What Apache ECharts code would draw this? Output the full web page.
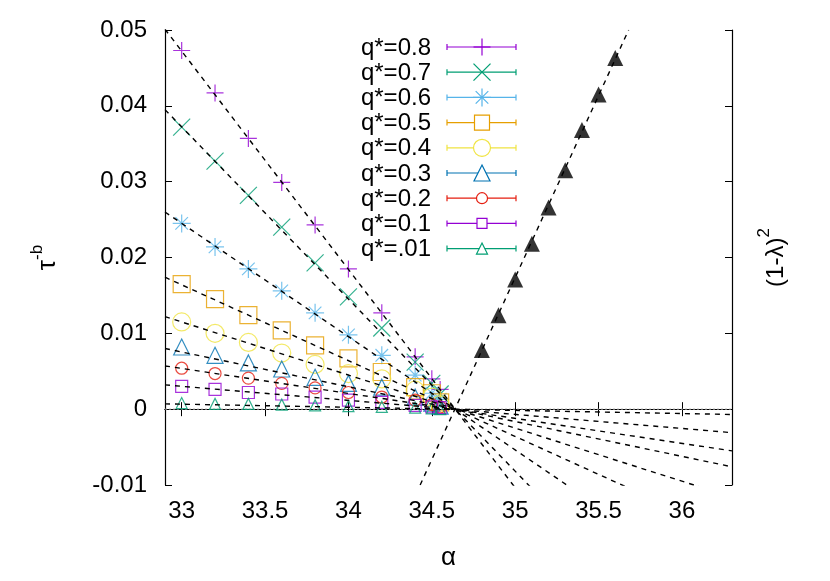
<!DOCTYPE html>
<html>
<head>
<meta charset="utf-8">
<script src="https://cdn.jsdelivr.net/npm/echarts@6/dist/echarts.min.js"></script>
<style>
  html, body { margin: 0; padding: 0; background: #fff; }
  #chart { width: 830px; height: 581px; }
</style>
</head>
<body>
<div id="chart"></div>
<script>
// alpha values of the measured points
const alphas = [33, 33.2, 33.4, 33.6, 33.8, 34, 34.2, 34.4, 34.5, 34.55];
const qNames = ['q*=0.8', 'q*=0.7', 'q*=0.6', 'q*=0.5', 'q*=0.4', 'q*=0.3', 'q*=0.2', 'q*=0.1', 'q*=.01'];
const q08 = [0.0473, 0.0417, 0.0357, 0.0299, 0.0243, 0.0185, 0.0127, 0.0069, 0.0040, 0.0026];
const q07 = [0.0372, 0.0327, 0.0282, 0.0240, 0.0193, 0.0148, 0.0107, 0.0062, 0.0034, 0.0020];
const q06 = [0.0245, 0.0214, 0.0185, 0.0156, 0.0127, 0.0098, 0.0071, 0.0045, 0.0021, 0.0013];
const q05 = [0.0165, 0.0145, 0.0124, 0.0104, 0.0084, 0.0067, 0.0049, 0.0029, 0.0021, 0.0009];
const q04 = [0.0115, 0.0100, 0.0088, 0.0074, 0.0059, 0.0047, 0.0040, 0.0025, 0.0016, 0.0006];
const q03 = [0.0082, 0.0071, 0.0061, 0.0053, 0.0042, 0.0034, 0.0029, 0.0016, 0.0008, 0.0004];
const q02 = [0.0054, 0.0047, 0.0041, 0.0034, 0.0028, 0.0022, 0.0016, 0.0012, 0.0006, 0.0003];
const q01 = [0.0030, 0.0026, 0.0022, 0.0020, 0.0016, 0.0012, 0.0009, 0.0005, 0.0003, 0.0002];
const q001 = [0.0008, 0.0007, 0.0007, 0.0006, 0.0005, 0.0004, 0.0003, 0.0002, 0.0001, 0.0000];

// linear fits, value at alpha = 32.9 and at alpha = 36.3
const fitX = [32.9, 36.3];
const fitLeft = [0.0501, 0.0395, 0.0260, 0.0174, 0.0122, 0.0080, 0.0057, 0.0032, 0.0007];
const fitRight = [-0.0478, -0.0377, -0.0248, -0.0166, -0.0116, -0.0076, -0.0055, -0.0031, -0.0007];

// (1-lambda)^2 on the right axis
const lamAlpha = [34.8, 34.9, 35.0, 35.1, 35.2, 35.3, 35.4, 35.5, 35.6];
const lamVal = [0.0078, 0.0124, 0.0171, 0.0218, 0.0266, 0.0315, 0.0368, 0.0415, 0.0463];
const lamFitX = [34.43, 35.68];
const lamFitY = [-0.01, 0.05];

const xTicks = [33, 33.5, 34, 34.5, 35, 35.5, 36];

const FONT = 'Liberation Sans, Arial, sans-serif';
const PLUS = 'path://M0,5L10,5M5,0L5,10';
const CROSS = 'path://M0,0L10,10M10,0L0,10';
const STAR = 'path://M0,5L10,5M5,0L5,10M1.5,1.5L8.5,8.5M8.5,1.5L1.5,8.5';
// same strokes as segments (unit box) for the key
const strokes = {
    plus: [[0, .5, 1, .5], [.5, 0, .5, 1]],
    cross: [[0, 0, 1, 1], [1, 0, 0, 1]],
    star: [[0, .5, 1, .5], [.5, 0, .5, 1], [.15, .15, .85, .85], [.85, .15, .15, .85]]
};

const qValues = [q08, q07, q06, q05, q04, q03, q02, q01, q001];
const colors = ['#9400d3', '#009e73', '#56b4e9', '#e69f00', '#f0e442', '#0072b2', '#e51e10', '#9400d3', '#009e73'];
const symbols = [PLUS, CROSS, STAR, 'rect', 'circle', 'triangle', 'circle', 'rect', 'triangle'];
const keyShapes = ['plus', 'cross', 'star', 'rect', 'circle', 'triangle', 'circle', 'rect', 'triangle'];
const sizes = [17, 17, 18, 17, 18, 16, 12, 12, 11];

const chart = echarts.init(document.getElementById('chart'));

const series = [];
qValues.forEach((vals, i) => {
    series.push({
        name: qNames[i],
        type: 'scatter',
        data: alphas.map((a, k) => [a, vals[k]]),
        symbol: symbols[i],
        symbolSize: sizes[i],
        itemStyle: { color: 'none', borderColor: colors[i], borderWidth: 1.2 },
        z: 3
    });
});
qValues.forEach((vals, i) => {
    series.push({
        type: 'line',
        data: [[fitX[0], fitLeft[i]], [fitX[1], fitRight[i]]],
        showSymbol: false,
        lineStyle: { color: '#000', width: 1.4, type: [5, 5] },
        z: 4
    });
});
// zero line
series.push({
    type: 'line',
    data: [[fitX[0], 0], [fitX[1], 0]],
    showSymbol: false,
    lineStyle: { color: '#999', width: 1, type: [2, 2] },
    z: 2
});
series.push({
    type: 'scatter',
    yAxisIndex: 1,
    data: lamAlpha.map((a, k) => [a, lamVal[k]]),
    symbol: 'triangle',
    symbolSize: 16,
    itemStyle: { color: '#000' },
    z: 3
});
series.push({
    type: 'line',
    yAxisIndex: 1,
    data: [[lamFitX[0], lamFitY[0]], [lamFitX[1], lamFitY[1]]],
    showSymbol: false,
    lineStyle: { color: '#000', width: 1.4, type: [5, 5] },
    z: 4
});

// gnuplot-style key: text, error-bar line, marker
const keyTop = 47, keyStep = 25.2, keyTextX = 431, keyX0 = 447, keyX1 = 516, keyMid = 482;
const graphic = [];
qNames.forEach((nm, i) => {
    const y = keyTop + i * keyStep;
    const c = colors[i];
    graphic.push({
        type: 'text', x: keyTextX, y: y + 1,
        style: { text: nm, font: '24px ' + FONT, fill: '#000', align: 'right', verticalAlign: 'middle' }
    });
    graphic.push({
        type: 'polyline',
        shape: { points: [[keyX0, y - 3], [keyX0, y + 3], [keyX0, y], [keyX1, y], [keyX1, y - 3], [keyX1, y + 3]] },
        style: { stroke: c, lineWidth: 1.2, fill: null }
    });
    const s = sizes[i];
    const st = { stroke: c, lineWidth: 1.2, fill: '#fff' };
    const k = keyShapes[i];
    if (k === 'rect') {
        graphic.push({ type: 'rect', z: 10, shape: { x: keyMid - s / 2 + 1, y: y - s / 2 + 1, width: s - 2, height: s - 2 }, style: st });
    } else if (k === 'circle') {
        graphic.push({ type: 'circle', z: 10, shape: { cx: keyMid, cy: y, r: s / 2 - 0.5 }, style: st });
    } else if (k === 'triangle') {
        graphic.push({ type: 'polygon', z: 10, shape: { points: [[keyMid, y - s / 2], [keyMid + s / 2, y + s / 2], [keyMid - s / 2, y + s / 2]] }, style: st });
    } else {
        strokes[k].forEach(seg => {
            graphic.push({
                type: 'line', z: 10,
                shape: { x1: keyMid - s / 2 + seg[0] * s, y1: y - s / 2 + seg[1] * s, x2: keyMid - s / 2 + seg[2] * s, y2: y - s / 2 + seg[3] * s },
                style: { stroke: c, lineWidth: 1.2 }
            });
        });
    }
});

const axisLine = { show: true, lineStyle: { color: '#000', width: 1.2 } };
const tickStyle = { color: '#000', width: 1 };

chart.setOption({
    animation: false,
    textStyle: { fontFamily: FONT },
    grid: { left: 165, top: 30, right: 98, bottom: 96 },
    xAxis: [
        {
            type: 'value', min: 32.9, max: 36.3, position: 'bottom',
            axisLine: axisLine,
            axisTick: { inside: true, length: 7, customValues: xTicks, lineStyle: tickStyle },
            axisLabel: { customValues: xTicks, fontSize: 24, color: '#000', margin: 14, fontFamily: FONT },
            splitLine: { show: false },
            name: 'α', nameLocation: 'middle', nameGap: 60,
            nameTextStyle: { fontSize: 26, color: '#000', fontFamily: FONT }
        },
        {
            type: 'value', min: 32.9, max: 36.3, position: 'top',
            axisLine: axisLine,
            axisTick: { inside: true, length: 7, customValues: xTicks, lineStyle: tickStyle },
            axisLabel: { show: false },
            splitLine: { show: false }
        }
    ],
    yAxis: [
        {
            type: 'value', min: -0.01, max: 0.05, interval: 0.01, position: 'left',
            axisLine: axisLine,
            axisTick: { inside: true, length: 7, lineStyle: tickStyle },
            axisLabel: {
                fontSize: 24, color: '#000', margin: 18, fontFamily: FONT,
                formatter: v => Math.abs(v) < 1e-9 ? '0' : v.toFixed(2)
            },
            splitLine: { show: false },
            name: '{a|τ}{s|-b}', nameLocation: 'middle', nameRotate: 90, nameGap: 104,
            nameTextStyle: {
                rich: {
                    a: { fontSize: 26, color: '#000', fontFamily: FONT, lineHeight: 32, verticalAlign: 'bottom' },
                    s: { fontSize: 17, color: '#000', fontFamily: FONT, lineHeight: 32, verticalAlign: 'top' }
                }
            }
        },
        {
            type: 'value', min: -0.01, max: 0.05, interval: 0.01, position: 'right',
            axisLine: axisLine,
            axisTick: { inside: true, length: 7, lineStyle: tickStyle },
            axisLabel: { show: false },
            splitLine: { show: false },
            name: '{a|(1-λ)}{s|2}', nameLocation: 'middle', nameRotate: 90, nameGap: 24,
            nameTextStyle: {
                rich: {
                    a: { fontSize: 24, color: '#000', fontFamily: FONT, lineHeight: 32, verticalAlign: 'bottom' },
                    s: { fontSize: 17, color: '#000', fontFamily: FONT, lineHeight: 32, verticalAlign: 'top' }
                }
            }
        }
    ],
    graphic: graphic,
    series: series
});
</script>
</body>
</html>
